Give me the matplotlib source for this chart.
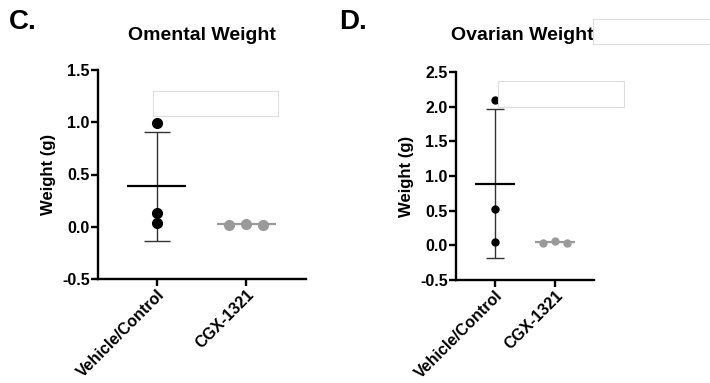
import numpy as np
import matplotlib.pyplot as plt
from matplotlib.patches import Rectangle

plt.rcParams['font.family'] = ['Liberation Sans', 'DejaVu Sans']
plt.rcParams['font.weight'] = 'bold'

# =====================
# data
# =====================
groups = ["Vehicle/Control", "CGX-1321"]

omental_vehicle = [0.99, 0.13, 0.04]
omental_cgx = [0.02, 0.03, 0.02]

ovarian_vehicle = [2.10, 0.52, 0.05]
ovarian_cgx = [0.04, 0.06, 0.04]

omental_ticks = [-0.5, 0.0, 0.5, 1.0, 1.5]
ovarian_ticks = [-0.5, 0.0, 0.5, 1.0, 1.5, 2.0, 2.5]

GREY = "#9a9a9a"


def draw_panel(ax, vehicle, cgx, yticks, jitter, msize):
    vals = [np.array(vehicle), np.array(cgx)]
    cols = ["black", GREY]
    offs = [np.zeros(3), np.array([-jitter, 0.0, jitter])]
    for i, (v, c, o) in enumerate(zip(vals, cols, offs)):
        m = v.mean()
        sd = v.std(ddof=1)
        ax.plot(i + o, v, "o", color=c, ms=msize, zorder=3)
        ax.hlines(m, i - 0.33, i + 0.33, color=c, lw=1.6, zorder=2)
        if i == 0:
            ax.vlines(i, m - sd, m + sd, color="#333333", lw=1.0, zorder=1)
            ax.hlines([m - sd, m + sd], i - 0.15, i + 0.15,
                      color="#333333", lw=1.0)
    ax.set_ylim(yticks[0], yticks[-1])
    ax.set_yticks(yticks)
    ax.set_yticklabels([f"{t:.1f}" for t in yticks], fontsize=11.5, fontweight="bold")
    ax.set_xticks([0, 1])
    ax.set_xticklabels(groups, rotation=45, ha="right", rotation_mode="anchor",
                       fontsize=11.5, fontweight="bold")
    ax.set_ylabel("Weight (g)", fontsize=12, fontweight="bold", labelpad=4)
    ax.spines["top"].set_visible(False)
    ax.spines["right"].set_visible(False)
    ax.spines["left"].set_linewidth(1.7)
    ax.spines["bottom"].set_linewidth(1.7)
    ax.tick_params(width=1.7, length=5, direction="out", pad=1)


fig = plt.figure(figsize=(7.1, 3.83), dpi=100)

ax1 = fig.add_axes([98 / 710, 1 - 279 / 383, 208 / 710, 209 / 383])
draw_panel(ax1, omental_vehicle, omental_cgx, omental_ticks, 0.19, 7)
ax1.set_xlim(-0.66, 1.67)

ax2 = fig.add_axes([456 / 710, 1 - 280 / 383, 138 / 710, 208 / 383])
draw_panel(ax2, ovarian_vehicle, ovarian_cgx, ovarian_ticks, 0.2, 5)
ax2.set_xlim(-0.65, 1.65)

# titles
fig.text(202 / 710, 1 - 36 / 383, "Omental Weight", fontsize=14, fontweight="bold",
         ha="center", va="center")
fig.text(522 / 710, 1 - 36 / 383, "Ovarian Weight", fontsize=14, fontweight="bold",
         ha="center", va="center")

# panel letters
fig.text(9 / 710, 1 - 22 / 383, "C.", fontsize=20, fontweight="bold", va="center")
fig.text(339 / 710, 1 - 22 / 383, "D.", fontsize=20, fontweight="bold", va="center")

# white cover boxes (as in the source image)
for x0, y0, x1, y1 in [(153, 91, 278, 116), (498, 81, 624, 107), (593, 19, 712, 44)]:
    fig.patches.append(Rectangle((x0 / 710, 1 - y1 / 383), (x1 - x0) / 710, (y1 - y0) / 383,
                                 transform=fig.transFigure, facecolor="white",
                                 edgecolor="#dddddd", lw=0.8, zorder=10))

fig.savefig("out.png", dpi=100)
